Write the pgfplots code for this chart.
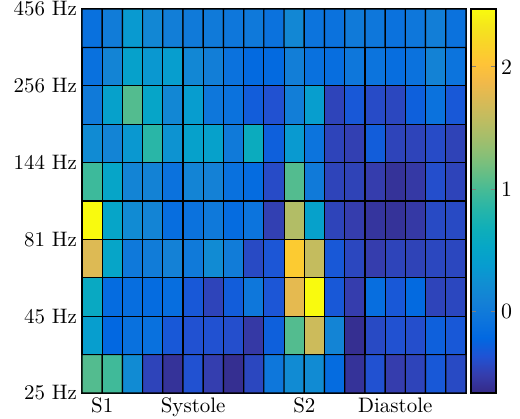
\documentclass[border=0pt]{standalone}
\usepackage{pgfplots}
\pgfplotsset{compat=1.18}
\pgfplotstableread{
x y c
0 0 1.05
1 0 0.97
2 0 0.20
3 0 -0.47
4 0 -0.60
5 0 -0.38
6 0 -0.51
7 0 -0.63
8 0 -0.45
9 0 -0.05
10 0 0.20
11 0 0.20
12 0 -0.18
13 0 -0.60
14 0 -0.38
15 0 -0.52
16 0 -0.47
17 0 -0.33
18 0 -0.43
0 1 0.40
1 1 -0.22
2 1 -0.12
3 1 -0.12
4 1 -0.33
5 1 -0.38
6 1 -0.38
7 1 -0.40
8 1 -0.55
9 1 -0.28
10 1 1.05
11 1 1.65
12 1 0.12
13 1 -0.63
14 1 -0.43
15 1 -0.38
16 1 -0.40
17 1 -0.28
18 1 -0.33
0 2 0.58
1 2 -0.18
2 2 -0.15
3 2 -0.18
4 2 -0.15
5 2 -0.33
6 2 -0.47
7 2 -0.30
8 2 -0.05
9 2 -0.35
10 2 1.80
11 2 2.47
12 2 -0.33
13 2 -0.52
14 2 -0.15
15 2 -0.33
16 2 -0.20
17 2 -0.47
18 2 -0.45
0 3 1.75
1 3 0.50
2 3 -0.02
3 3 0.02
4 3 0.08
5 3 0.00
6 3 0.20
7 3 0.02
8 3 -0.43
9 3 -0.35
10 3 2.10
11 3 1.60
12 3 -0.33
13 3 -0.45
14 3 -0.52
15 3 -0.47
16 3 -0.48
17 3 -0.45
18 3 -0.45
0 4 2.47
1 4 0.50
2 4 0.20
3 4 0.12
4 4 -0.15
5 4 -0.10
6 4 -0.02
7 4 -0.18
8 4 -0.08
9 4 -0.50
10 4 1.50
11 4 0.45
12 4 -0.47
13 4 -0.52
14 4 -0.58
15 4 -0.60
16 4 -0.55
17 4 -0.43
18 4 -0.43
0 5 0.95
1 5 0.50
2 5 0.12
3 5 0.10
4 5 -0.10
5 5 0.12
6 5 0.08
7 5 -0.12
8 5 -0.18
9 5 -0.42
10 5 1.05
11 5 0.00
12 5 -0.47
13 5 -0.48
14 5 -0.52
15 5 -0.60
16 5 -0.55
17 5 -0.40
18 5 -0.47
0 6 0.20
1 6 0.12
2 6 0.33
3 6 0.85
4 6 0.28
5 6 0.45
6 6 0.45
7 6 0.00
8 6 0.62
9 6 -0.28
10 6 0.35
11 6 -0.08
12 6 -0.47
13 6 -0.50
14 6 -0.30
15 6 -0.47
16 6 -0.47
17 6 -0.42
18 6 -0.48
0 7 0.00
1 7 0.45
2 7 1.05
3 7 0.50
4 7 0.15
5 7 0.38
6 7 -0.05
7 7 -0.10
8 7 -0.30
9 7 -0.38
10 7 0.05
11 7 0.40
12 7 -0.47
13 7 -0.33
14 7 -0.42
15 7 -0.45
16 7 -0.28
17 7 -0.10
18 7 -0.33
0 8 -0.12
1 8 0.12
2 8 0.45
3 8 0.33
4 8 0.40
5 8 0.15
6 8 0.05
7 8 -0.10
8 8 -0.20
9 8 -0.20
10 8 0.05
11 8 -0.12
12 8 -0.15
13 8 -0.05
14 8 -0.08
15 8 -0.15
16 8 -0.10
17 8 0.10
18 8 -0.08
0 9 -0.12
1 9 0.02
2 9 0.35
3 9 0.15
4 9 0.05
5 9 0.00
6 9 0.00
7 9 -0.05
8 9 -0.02
9 9 -0.10
10 9 0.15
11 9 -0.08
12 9 -0.10
13 9 0.00
14 9 -0.05
15 9 -0.10
16 9 -0.05
17 9 0.05
18 9 -0.10
}\heatdata
\begin{document}
\begin{tikzpicture}
\begin{axis}[
  scale only axis, width=192bp, height=192bp,
  xmin=-0.5, xmax=18.5, ymin=-0.5, ymax=9.5,
  xtick={0.5,5,10.5,15}, xticklabels={S1,Systole,S2,Diastole},
  ytick={-0.5,1.5,3.5,5.5,7.5,9.5},
  yticklabels={25 Hz,45 Hz,81 Hz,144 Hz,256 Hz,456 Hz},
  major tick length=0pt,
  tick label style={font=\fontsize{10.5}{12}\selectfont},
  xticklabel style={yshift=1bp},
  yticklabel style={xshift=1bp},
  axis line style={black, line width=0.6bp},
  colormap={parula}{
    rgb=(0.2081,0.1663,0.5292) rgb=(0.2081,0.2386,0.6771) rgb=(0.1253,0.3242,0.8303)
    rgb=(0.0060,0.4086,0.8828) rgb=(0.0498,0.4586,0.8641) rgb=(0.0779,0.5040,0.8384)
    rgb=(0.0641,0.5570,0.8240) rgb=(0.0265,0.6137,0.8135) rgb=(0.0228,0.6535,0.7768)
    rgb=(0.0590,0.6838,0.7254) rgb=(0.1453,0.7098,0.6646) rgb=(0.2586,0.7317,0.5954)
    rgb=(0.3953,0.7459,0.5244) rgb=(0.5300,0.7491,0.4661) rgb=(0.6473,0.7456,0.4188)
    rgb=(0.7525,0.7384,0.3768) rgb=(0.8507,0.7299,0.3360) rgb=(0.9450,0.7261,0.2886)
    rgb=(0.9990,0.7653,0.2164) rgb=(0.9789,0.8271,0.1633) rgb=(0.9589,0.8949,0.1132)
    rgb=(0.9763,0.9831,0.0538)},
  point meta min=-0.67, point meta max=2.475,
  colorbar,
  colorbar style={
    at={(parent axis.north east)}, anchor=north west, xshift=-6bp,
    width=12.5bp,
    ytick={0,1,2},
    ytick pos=both, yticklabel pos=right,
    major tick length=2.5bp,
    tick align=inside,
    tick style={gray, line width=0.5bp},
    axis line style={black, line width=0.6bp},
    yticklabel style={font=\fontsize{10.5}{12}\selectfont, xshift=-1bp},
  },
]
\addplot[matrix plot*, mesh/cols=19, point meta=explicit, draw=black, line width=0.6bp] table[meta=c] {\heatdata};
\coordinate (bbsw) at (rel axis cs:0,0);
\coordinate (bbne) at (rel axis cs:1,1);
\end{axis}
\pgfresetboundingbox
\path[use as bounding box] ([shift={(-41bp,-13bp)}]bbsw) rectangle ([shift={(27bp,4.5bp)}]bbne);
\end{tikzpicture}
\end{document}
